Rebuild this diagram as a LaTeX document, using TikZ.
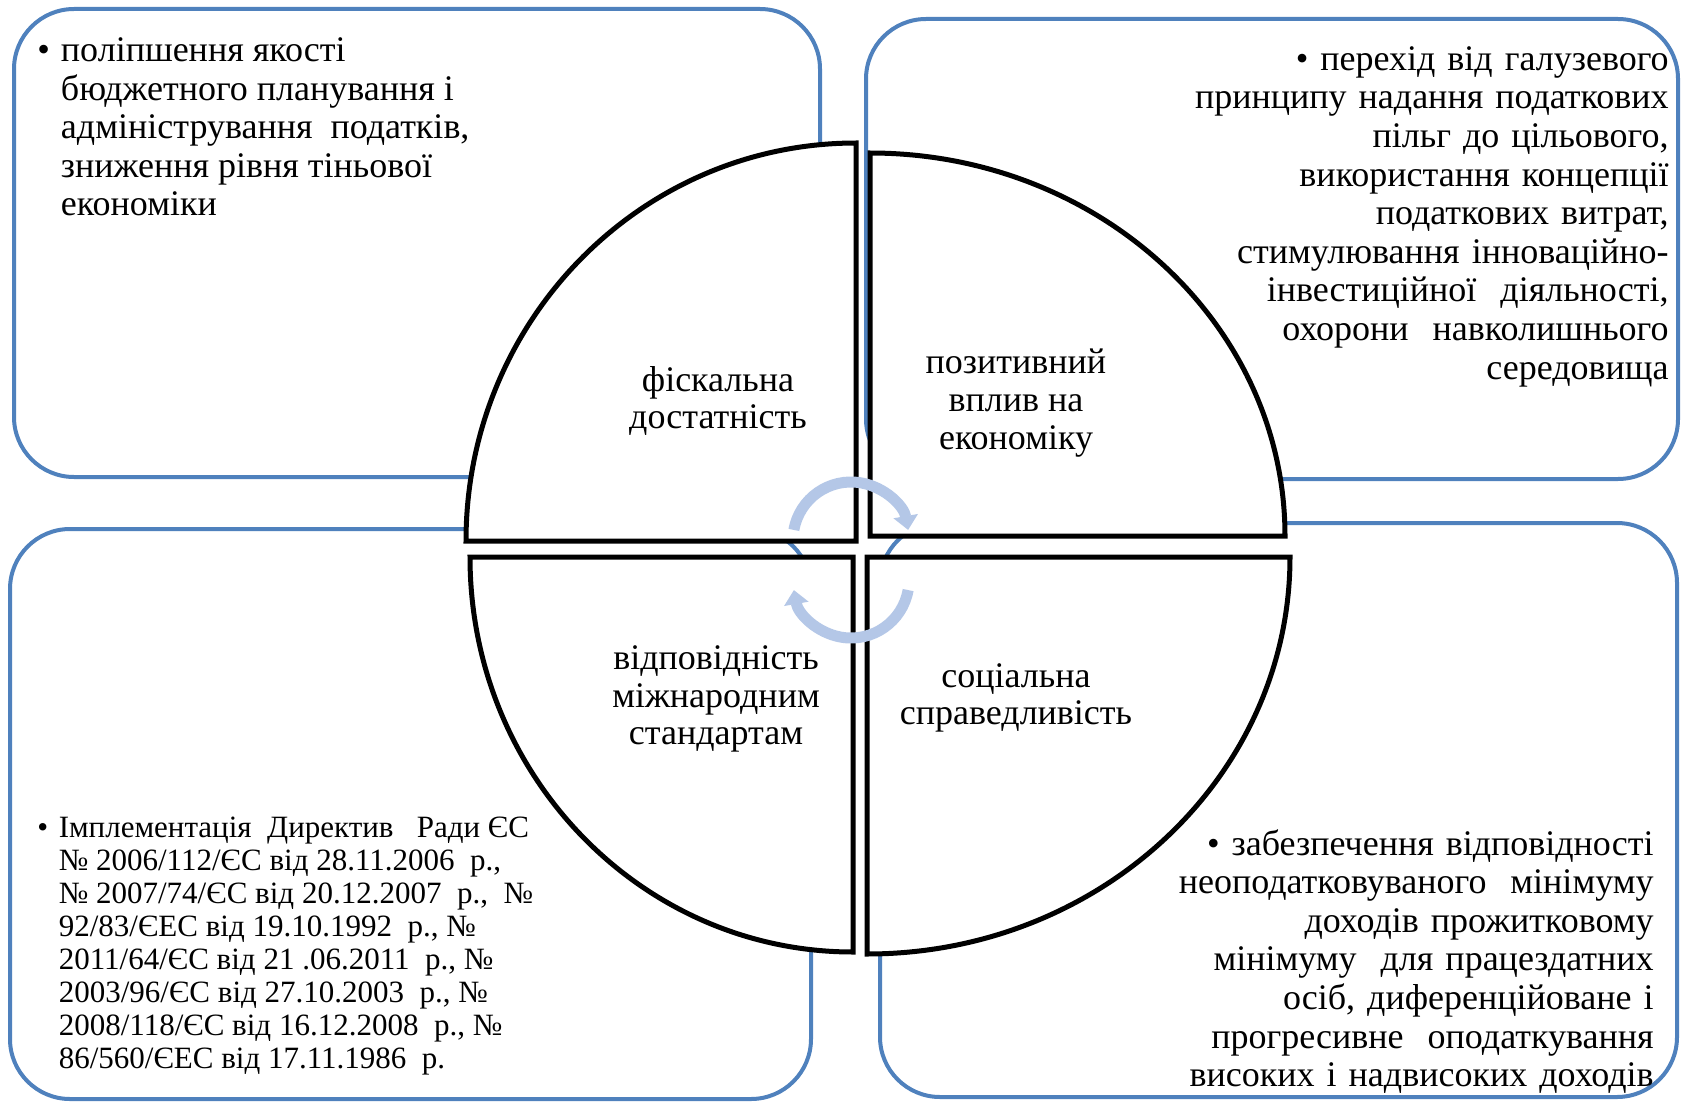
\documentclass[tikz,border=0pt]{standalone}
\usepackage{fontspec}
\setmainfont{Liberation Serif}
\usetikzlibrary{arrows.meta}
\definecolor{panelblue}{RGB}{79,129,189}
\definecolor{arrowblue}{RGB}{180,199,231}
\tikzset{
    panel/.style={draw=panelblue, line width=2pt, rounded corners=30pt, fill=white},
    quarter/.style={draw=black, line width=2.5pt, fill=white, line join=miter},
    centerlabel/.style={align=center, inner sep=0pt, font=\fontsize{18pt}{18.8pt}\selectfont},
    notesleft/.style={inner sep=0pt, anchor=north west, font=\fontsize{18pt}{19.3pt}\selectfont},
    notesright/.style={align=right, inner sep=0pt, anchor=north east, text width=300pt, font=\fontsize{18pt}{19.3pt}\selectfont},
    roundarrow/.style={draw=arrowblue, line width=5.5pt, -{Triangle[width=12pt, length=7pt]}}
}

\begin{document}
\begin{tikzpicture}[x=0.5pt, y=-0.5pt]
    \useasboundingbox (0,0) rectangle (1681,1102);

    % Riquadri di sfondo
    \draw[panel] (14,9) rectangle (820,477);
    \draw[panel] (866,19) rectangle (1678,479);
    \draw[panel] (10,529) rectangle (811,1099);
    \draw[panel] (880,523) rectangle (1677,1097);

    % Quarti del cerchio
    \draw[quarter] (856,541) -- ++(-390,0) arc[start angle=180, end angle=270, x radius=390, y radius=398] -- cycle;
    \draw[quarter] (870,536) -- ++(0,-383) arc[start angle=270, end angle=360, x radius=415, y radius=383] -- cycle;
    \draw[quarter] (867,557) -- ++(423,0) arc[start angle=0, end angle=90, x radius=423, y radius=397] -- cycle;
    \draw[quarter] (853,557) -- ++(0,395) arc[start angle=90, end angle=180, x radius=383, y radius=395] -- cycle;

    % Frecce circolari
    \draw[roundarrow] (851,540) ++(190:58) arc[start angle=190, end angle=350, radius=58];
    \draw[roundarrow] (851,580) ++(10:58) arc[start angle=10, end angle=170, radius=58];

    % Etichette centrali
    \node[centerlabel] (fiscal) at (718,401) {фіскальна\\достатність};
    \node[centerlabel] (economy) at (1016,403) {позитивний\\вплив на\\економіку};
    \node[centerlabel] (standards) at (716,699) {відповідність\\міжнародним\\стандартам};
    \node[centerlabel] (social) at (1016,698) {соціальна\\справедливість};

    % Testi dei riquadri
    \node[notesleft] (fiscalnote) at (37,34) {\makebox[11.8pt][l]{\textbullet}\begin{tabular}[t]{@{}l@{}}поліпшення якості\\бюджетного планування і\\адміністрування~ податків,\\зниження рівня тіньової\\економіки\end{tabular}};
    \node[notesright] (economynote) at (1669,46) {\textbullet\ перехід від галузевого\\принципу надання податкових\\пільг до цільового,\\використання концепції\\податкових витрат,\\стимулювання інноваційно-\\інвестиційної~ діяльності,\\охорони~ навколишнього\\середовища};
    \node[notesleft, font=\fontsize{15.5pt}{16.5pt}\selectfont] (standardsnote) at (37,814) {\makebox[10.7pt][l]{\textbullet}\begin{tabular}[t]{@{}l@{}}Імплементація~ Директив~~ Ради ЄС\\№ 2006/112/ЄС від 28.11.2006~ р.,\\№ 2007/74/ЄС від 20.12.2007~ р.,~ №\\92/83/ЄЕС від 19.10.1992~ р., №\\2011/64/ЄС від 21 .06.2011~ р., №\\2003/96/ЄС від 27.10.2003~ р., №\\2008/118/ЄС від 16.12.2008~ р., №\\86/560/ЄЕС від 17.11.1986~ р.\end{tabular}};
    \node[notesright] (socialnote) at (1654,829) {\textbullet\ забезпечення відповідності\\неоподатковуваного~ мінімуму\\доходів прожитковому\\мінімуму~ для працездатних\\осіб, диференційоване і\\прогресивне~ оподаткування\\високих і надвисоких доходів};

\end{tikzpicture}
\end{document}
